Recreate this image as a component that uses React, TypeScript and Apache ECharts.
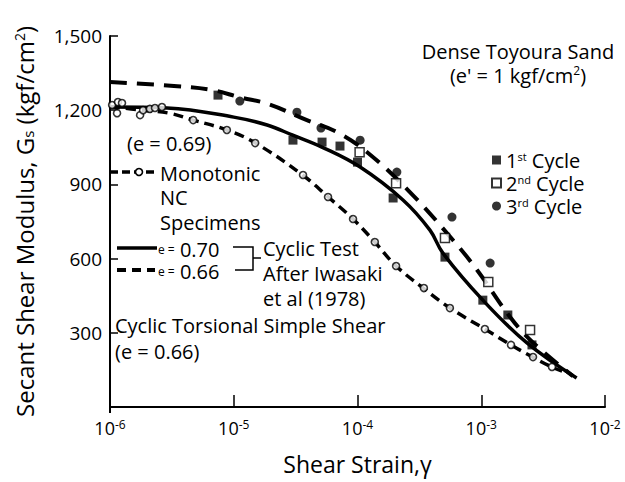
import React, { useEffect, useRef } from "react";
import * as echarts from "echarts";

// ---- data ----
const xTickExponents = [-6, -5, -4, -3, -2];
const yTickValues = [300, 600, 900, 1200, 1500];

// Monotonic NC specimens (e = 0.69): curve and open circles
const monotonicCurve: [number, number][] = [
  [1e-6, 1215], [1.8e-6, 1200], [3e-6, 1188], [4.7e-6, 1160], [8.8e-6, 1120],
  [1.5e-5, 1067], [3.6e-5, 938], [5.8e-5, 849], [9.2e-5, 760], [1.38e-4, 667],
  [2.05e-4, 570], [3.4e-4, 481], [5.6e-4, 400], [1.07e-3, 315], [1.74e-3, 251],
  [2.6e-3, 202], [3.7e-3, 162], [4.5e-3, 145],
];
const monotonicPoints: [number, number][] = [
  [1.04e-6, 1221], [1.16e-6, 1233], [1.25e-6, 1229], [1.14e-6, 1188],
  [1.75e-6, 1180], [1.85e-6, 1200], [2.1e-6, 1205], [2.31e-6, 1209], [2.63e-6, 1213],
  [4.7e-6, 1160], [8.8e-6, 1120], [1.49e-5, 1067], [3.63e-5, 938], [5.78e-5, 849],
  [9.2e-5, 760], [1.38e-4, 667], [2.05e-4, 570], [3.44e-4, 481], [5.58e-4, 400],
  [1.07e-3, 315], [1.74e-3, 251], [2.62e-3, 202], [3.73e-3, 162],
];

// Cyclic test after Iwasaki et al (1978)
const cyclicE070: [number, number][] = [
  [1e-6, 1213], [2.9e-6, 1209], [1e-5, 1172], [1.86e-5, 1140], [3e-5, 1099],
  [5.2e-5, 1050], [1.05e-4, 970], [2.33e-4, 837], [3.85e-4, 715], [4.9e-4, 622],
  [1.03e-3, 432], [2.34e-3, 259], [5.9e-3, 117],
];
const cyclicE066: [number, number][] = [
  [1e-6, 1314], [3.5e-6, 1297], [6.8e-6, 1281], [1.12e-5, 1252], [1.9e-5, 1225],
  [3.9e-5, 1160], [6.8e-5, 1112], [1.19e-4, 1031], [2.65e-4, 869], [5.9e-4, 675],
  [9.25e-4, 554], [1.71e-3, 364], [2.6e-3, 262], [5.5e-3, 125],
];

// Cyclic torsional simple shear (e = 0.66)
const cycle1st: [number, number][] = [
  [7.46e-6, 1261], [3.01e-5, 1079], [5.17e-5, 1071], [7.22e-5, 1055], [1e-4, 990],
  [1.94e-4, 845], [5.09e-4, 606], [1.03e-3, 432], [1.64e-3, 372], [2.57e-3, 251],
];
const cycle2nd: [number, number][] = [
  [1.04e-4, 1030], [2.05e-4, 905], [5.09e-4, 683], [1.14e-3, 505], [2.48e-3, 311],
];
const cycle3rd: [number, number][] = [
  [1.12e-5, 1237], [3.24e-5, 1192], [5.07e-5, 1128], [1.05e-4, 1079], [2.08e-4, 950],
  [5.8e-4, 768], [1.18e-3, 582],
];

const FONT = "'Open Sans', 'Noto Sans', sans-serif";

export default function App() {
  const ref = useRef<HTMLDivElement>(null);
  useEffect(() => {
    document.body.style.margin = "0";
    if (!ref.current) return;
    const chart = echarts.init(ref.current, null, { renderer: "svg" });
    const txt = (x: number, y: number, text: string, size = 20, extra: any = {}) => ({
      type: "text",
      x,
      y,
      style: {
        text,
        fontSize: size,
        fontFamily: FONT,
        fill: "#000",
        lineHeight: size,
        verticalAlign: "top",
        ...extra,
      },
    });
    const small = { fontSize: 12, fontFamily: FONT, fill: "#000" };
    const option: any = {
      animation: false,
      backgroundColor: "#fff",
      grid: { left: 110, right: 20, top: 36, bottom: 75 },
      xAxis: {
        type: "log",
        logBase: 10,
        min: Math.pow(10, xTickExponents[0]),
        max: Math.pow(10, xTickExponents[xTickExponents.length - 1]),
        offset: 5,
        name: "Shear Strain,γ",
        nameLocation: "middle",
        nameGap: 40,
        nameTextStyle: { fontSize: 23, fontFamily: FONT, color: "#000" },
        axisLine: { lineStyle: { color: "#000", width: 2 } },
        axisTick: { inside: true, length: 12, lineStyle: { color: "#000", width: 1.5 } },
        minorTick: { show: false },
        splitLine: { show: false },
        axisLabel: {
          margin: 6,
          color: "#000",
          fontFamily: FONT,
          fontSize: 18,
          formatter: (v: number) => `10{sup|${Math.round(Math.log10(v))}}`,
          rich: {
            sup: { fontSize: 12, fontFamily: FONT, color: "#000", verticalAlign: "top", padding: [0, 0, 8, 0] },
          },
        },
      },
      yAxis: {
        type: "value",
        min: 0,
        max: yTickValues[yTickValues.length - 1],
        interval: 300,
        name: "Secant Shear Modulus, G{sub|s} (kgf/cm{sup|2})",
        nameLocation: "middle",
        nameGap: 74,
        nameRotate: 90,
        nameTextStyle: {
          fontSize: 24,
          fontFamily: FONT,
          color: "#000",
          rich: {
            sub: { fontSize: 15, fontFamily: FONT, color: "#000", padding: [0, 0, -7, 0] },
            sup: { fontSize: 14, fontFamily: FONT, color: "#000", padding: [0, 0, 9, 0] },
          },
        },
        axisLine: { show: true, lineStyle: { color: "#000", width: 2 } },
        axisTick: { show: true, inside: true, length: 8, lineStyle: { color: "#000", width: 1.5 } },
        splitLine: { show: false },
        axisLabel: {
          margin: 8,
          color: "#000",
          fontFamily: FONT,
          fontSize: 19,
          formatter: (v: number) => (yTickValues.includes(v) ? v.toLocaleString("en-US") : ""),
        },
      },
      legend: {
        orient: "vertical",
        left: 486,
        top: 145,
        itemWidth: 9,
        itemHeight: 9,
        itemGap: 3,
        data: ["1st Cycle", "2nd Cycle", "3rd Cycle"],
        formatter: (name: string) => {
          const m = name.match(/^(\d)(\w\w) (.*)$/);
          return m ? `${m[1]}{sup|${m[2]}} ${m[3]}` : name;
        },
        textStyle: {
          fontSize: 20,
          lineHeight: 19,
          fontFamily: FONT,
          color: "#000",
          rich: {
            sup: { fontSize: 11, lineHeight: 19, fontFamily: FONT, color: "#000", verticalAlign: "top", padding: [0, 0, 8, 0] },
          },
        },
      },
      series: [
        {
          name: "Monotonic",
          type: "line",
          data: monotonicCurve,
          smooth: 0.4,
          showSymbol: false,
          lineStyle: { color: "#000", width: 3.5, type: [10, 6] },
          z: 2,
        },
        {
          name: "Monotonic points",
          type: "scatter",
          data: monotonicPoints,
          symbol: "circle",
          symbolSize: 7,
          itemStyle: { color: "#fff", borderColor: "#000", borderWidth: 1.6 },
          z: 4,
        },
        {
          name: "e = 0.70",
          type: "line",
          data: cyclicE070,
          smooth: 0.4,
          showSymbol: false,
          lineStyle: { color: "#000", width: 3.5, type: "solid" },
          z: 2,
        },
        {
          name: "e = 0.66",
          type: "line",
          data: cyclicE066,
          smooth: 0.4,
          showSymbol: false,
          lineStyle: { color: "#000", width: 4, type: [17, 10] },
          z: 2,
        },
        {
          name: "1st Cycle",
          type: "scatter",
          data: cycle1st,
          symbol: "rect",
          symbolSize: 9,
          itemStyle: { color: "#000" },
          z: 5,
        },
        {
          name: "2nd Cycle",
          type: "scatter",
          data: cycle2nd,
          symbol: "rect",
          symbolSize: 9,
          itemStyle: { color: "#fff", borderColor: "#000", borderWidth: 1.5 },
          z: 5,
        },
        {
          name: "3rd Cycle",
          type: "scatter",
          data: cycle3rd,
          symbol: "circle",
          symbolSize: 9,
          itemStyle: { color: "#000" },
          z: 5,
        },
      ],
      graphic: [
        // connect y axis to offset x axis
        { type: "line", shape: { x1: 110, y1: 405, x2: 110, y2: 413 }, style: { stroke: "#000", lineWidth: 2 } },
        // top-right title (two lines, one text)
        txt(518, 39, "Dense Toyoura Sand\n(e' = 1 kgf/cm{sup|2})", 20, {
          align: "center",
          lineHeight: 24,
          rich: { sup: { fontSize: 12, lineHeight: 24, fontFamily: FONT, fill: "#000", padding: [0, 0, 9, 0] } },
        }),
        // monotonic legend
        txt(127, 133, "(e = 0.69)", 20),
        { type: "line", shape: { x1: 110, y1: 172, x2: 157, y2: 172 }, style: { stroke: "#000", lineWidth: 3.5, lineDash: [8, 4] } },
        { type: "circle", shape: { cx: 139, cy: 172, r: 3.5 }, style: { fill: "#fff", stroke: "#000", lineWidth: 1.6 } },
        txt(160, 161, "Monotonic\nNC\nSpecimens", 20, { lineHeight: 24.5 }),
        // cyclic test legend
        { type: "line", shape: { x1: 117, y1: 248, x2: 157, y2: 248 }, style: { stroke: "#000", lineWidth: 3.5 } },
        { type: "line", shape: { x1: 117, y1: 270, x2: 155, y2: 270 }, style: { stroke: "#000", lineWidth: 4, lineDash: [9, 6] } },
        txt(158, 238, "{s|e =} 0.70\n{s|e =} 0.66", 20, {
          lineHeight: 22,
          rich: { s: { ...small, lineHeight: 22 } },
        }),
        {
          type: "polyline",
          shape: { points: [[233, 247], [253, 247], [253, 270], [235, 270]] },
          style: { stroke: "#000", lineWidth: 1.5, fill: null },
        },
        { type: "line", shape: { x1: 253, y1: 258, x2: 261, y2: 258 }, style: { stroke: "#000", lineWidth: 1.5 } },
        txt(263, 236, "Cyclic Test\nAfter Iwasaki\net al (1978)", 20, { lineHeight: 25 }),
        // torsional
        txt(115, 312, "Cyclic Torsional Simple Shear\n(e = 0.66)", 20, { lineHeight: 26 }),
      ],
    };
    chart.setOption(option);
    return () => chart.dispose();
  }, []);
  return <div ref={ref} style={{ width: 625, height: 482 }} />;
}
